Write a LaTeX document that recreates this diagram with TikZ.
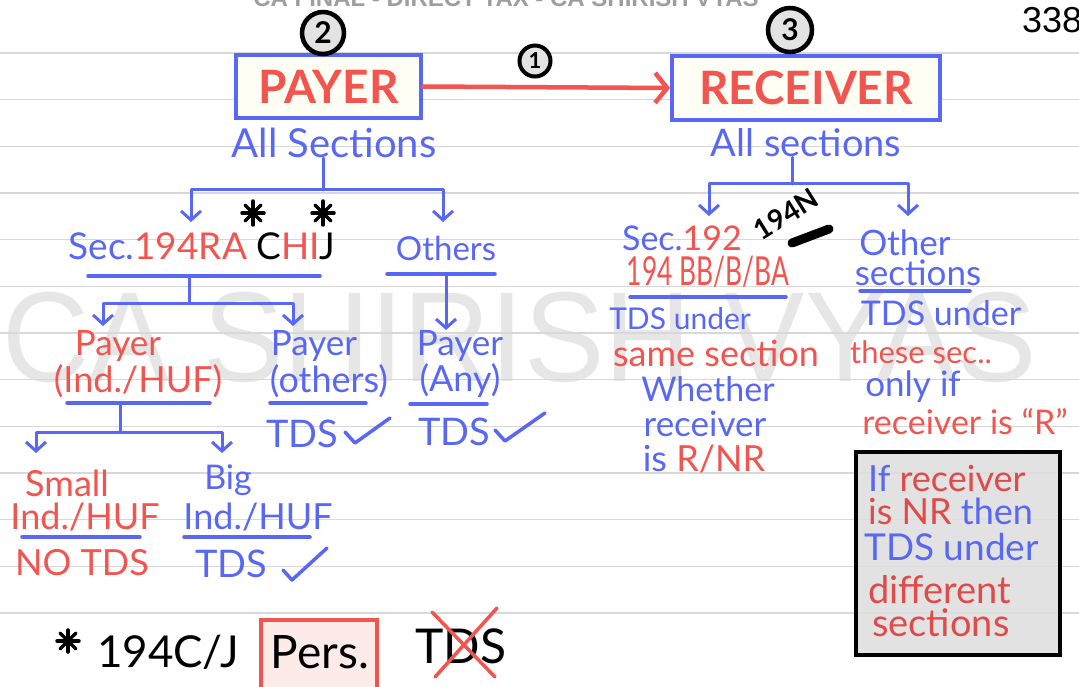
\documentclass[tikz,border=0pt]{standalone}
\usepackage{fontspec}
\setmainfont{Lato}
\newfontfamily\arialfont{Liberation Sans}
\newfontfamily\boldhand{Lato Bold}
\usetikzlibrary{arrows.meta}
\definecolor{bl}{HTML}{5868F5}
\definecolor{rd}{HTML}{F25550}
\definecolor{rdd}{HTML}{E04A48}
\definecolor{rulec}{HTML}{D8D8D8}
\definecolor{wm}{HTML}{E6E6E6}
\newcommand\fs[1]{\fontsize{#1}{#1}\selectfont}
\begin{document}
\begin{tikzpicture}[x=1pt,y=-1pt,
  hw/.style={inner sep=0pt},
  hb/.style={hw, text=bl},
  hr/.style={hw, text=rd},
  conn/.style={draw=bl, line width=3pt, line cap=round, line join=round},
  arr/.style={conn, -{Straight Barb[length=9pt,width=20pt,line width=3pt]}},
  uline/.style={draw=bl, line width=3.5pt, line cap=round},
  numc/.style={circle, draw=black, line width=4.5pt, fill=black!11, inner sep=0pt, font=\boldhand\fs{30}},
  mainbox/.style={draw=bl, line width=4pt, fill=yellow!4, text=rd, font=\boldhand\fs{46}, inner sep=0pt},
  tick/.style={draw=bl, line width=3.5pt, line cap=round, line join=round},
  astk/.style={draw=black, line width=3.5pt, line cap=round},
]
\useasboundingbox (0,0) rectangle (1079,687);
\fill[white] (0,0) rectangle (1079,687);
% watermark
\node[text=wm, font=\arialfont\fs{128}, xscale=0.94, inner sep=0pt] (wmark) at (520,337) {CA SHIRISH VYAS};
% ruled lines
\foreach \k in {0,...,12} {
  \draw[rulec, line width=1.4pt] (0,{53+46.67*\k}) -- (1079,{53+46.67*\k});
}
% header and page number
\node[text=black!38, font=\arialfont\bfseries\fs{24}, anchor=base, inner sep=0pt] (hdr) at (506,7) {CA FINAL - DIRECT TAX - CA SHIRISH VYAS};
\node[text=black, font=\arialfont\fs{36}, anchor=base west, inner sep=0pt] (page) at (1022,33) {338};

% top boxes
\node[mainbox, minimum width=185pt, minimum height=63pt] (payer) at (328.5,86.5) {PAYER};
\node[mainbox, minimum width=268pt, minimum height=64pt] (receiver) at (806,88) {RECEIVER};
\draw[draw=rd, line width=4.5pt, line cap=round, -{Straight Barb[length=12pt,width=30pt,line width=4.5pt]}] (payer.east) -- (receiver.west);
\node[numc, minimum size=42pt] (n2) at (323,33) {2};
\node[numc, minimum size=44pt] (n3) at (790,30) {3};
\node[numc, minimum size=31pt, line width=4pt, font=\boldhand\fs{22}] (n1) at (535,61) {1};

\node[hb, font=\fs{40}] (allL) at (334,143) {All Sections};
\node[hb, font=\fs{38}] (allR) at (806,143) {All sections};

% ---------- left tree ----------
\coordinate (jL) at (323,190);
\coordinate (tSec) at (191,222);
\coordinate (tOth) at (443,222);
\draw[conn] (jL |- allL.south) -- (jL);
\draw[arr] (jL) -| (tSec);
\draw[arr] (jL) -| (tOth);

\node[hw, font=\fs{37}] (secL) at (202,246) {{\color{bl}Sec.}{\color{rd}194RA }{\color{black}C}{\color{rd}HI}{\color{black}J}};
\foreach \cx/\nm in {253/a1,323/a2} {
  \coordinate (\nm) at (\cx,213);
  \draw[astk] ([shift={(-11,0)}]\nm) -- ([shift={(11,0)}]\nm);
  \draw[astk] ([shift={(0,-12)}]\nm) -- ([shift={(0,12)}]\nm);
  \draw[astk] ([shift={(-8,-8)}]\nm) -- ([shift={(8,8)}]\nm);
  \draw[astk] ([shift={(-8,8)}]\nm) -- ([shift={(8,-8)}]\nm);
}
\coordinate (uSecA) at (88,276); \coordinate (uSecB) at (320,276);
\draw[uline] (uSecA) -- (uSecB);
\node[hb, font=\fs{33}] (othL) at (446,248) {Others};
\coordinate (uOthA) at (387,274); \coordinate (uOthB) at (495,274);
\draw[uline] (uOthA) -- (uOthB);

\coordinate (mSec) at (189,276);
\coordinate (jS) at (189,303);
\coordinate (tInd) at (103,326);
\coordinate (tOthers) at (293,326);
\draw[conn] (mSec) -- (jS);
\draw[arr] (jS) -| (tInd);
\draw[arr] (jS) -| (tOthers);
\coordinate (mOth) at (446,274);
\coordinate (tAny) at (446,330);
\draw[arr] (mOth) -- (tAny);

\node[hr, font=\fs{35}] (payR1) at (118,346) {Payer};
\node[hr, font=\fs{36}] (payR2) at (138,381) {(Ind./HUF)};
\draw[uline] (67,403) -- (210,403);
\node[hb, font=\fs{35}] (payB1) at (314,346) {Payer};
\node[hb, font=\fs{36}] (payB2) at (329,381) {(others)};
\draw[uline] (270,403) -- (366,403);
\node[hb, font=\fs{35}] (payA1) at (460,346) {Payer};
\node[hb, font=\fs{36}] (payA2) at (460,381) {(Any)};
\draw[uline] (410,404) -- (487,404);

\node[hb, font=\fs{38}] (tds1) at (302,434) {TDS};
\draw[tick] (345,432) -- (355,443) -- (390,418);
\node[hb, font=\fs{38}] (tds2) at (454,432) {TDS};
\draw[tick] (495,430) -- (505,441) -- (545,413);

\coordinate (mInd) at (120,403);
\coordinate (jI) at (120,432);
\coordinate (tSmall) at (36,453);
\coordinate (tBig) at (222,453);
\draw[conn] (mInd) -- (jI);
\draw[arr] (jI) -| (tSmall);
\draw[arr] (jI) -| (tBig);

\node[hr, font=\fs{36}] (small1) at (67,483) {Small};
\node[hr, font=\fs{36}] (small2) at (85,517) {Ind./HUF};
\draw[uline] (22,537) -- (140,537);
\node[hr, font=\fs{36}] (notds) at (82,563) {NO TDS};
\node[hb, font=\fs{34}] (big1) at (228,480) {Big};
\node[hb, font=\fs{36}] (big2) at (258,517) {Ind./HUF};
\draw[uline] (184,537) -- (310,537);
\node[hb, font=\fs{38}] (tds3) at (231,564) {TDS};
\draw[tick] (283,570) -- (292,580) -- (327,548);

% bottom note
\coordinate (a3) at (68,641);
\draw[astk] ([shift={(-11,0)}]a3) -- ([shift={(11,0)}]a3);
\draw[astk] ([shift={(0,-11)}]a3) -- ([shift={(0,11)}]a3);
\draw[astk] ([shift={(-8,-8)}]a3) -- ([shift={(8,8)}]a3);
\draw[astk] ([shift={(-8,8)}]a3) -- ([shift={(8,-8)}]a3);
\node[hw, font=\fs{44}] (cj) at (168,652) {194C/J};
\draw[draw=rd, line width=4pt, fill=rd!12] (261,620) rectangle (377,692);
\node[hw, font=\fs{46}] (pers) at (320,652) {Pers.};
\node[hw, font=\fs{48}] (tdsx) at (461,646) {TDS};
\draw[draw=rd, line width=3.5pt, line cap=round] (432,612) -- (495,677);
\draw[draw=rd, line width=3.5pt, line cap=round] (497,608) -- (435,677);

% ---------- right tree ----------
\coordinate (jR) at (792,184);
\coordinate (t192) at (709,216);
\coordinate (tOS) at (908,216);
\draw[conn] (jR |- allR.south) -- (jR);
\draw[arr] (jR) -| (t192);
\draw[arr] (jR) -| (tOS);

\node[hw, font=\fs{34}] (sec192) at (682,238) {{\color{bl}Sec.}{\color{rd}192}};
\node[hw, font=\boldhand\fs{28}, rotate=32] (n194N) at (786,214) {194N};
\draw[black, line width=9pt, line cap=round] (792,243) -- (829,229);
\node[hr, font=\fs{40}, xscale=0.66] (bb) at (708,272) {194 BB/B/BA};
\draw[uline] (630,297) -- (786,297);
\node[hb, font=\fs{30}] (r1) at (680,319) {TDS under};
\node[hr, font=\fs{36}] (r2) at (716,353) {same section};
\node[hb, font=\fs{34}] (r3) at (708,389) {Whether};
\node[hb, font=\fs{35}] (r4) at (705,424) {receiver};
\node[hw, font=\fs{36}] (r5) at (704,459) {{\color{bl}is }{\color{rd}R/NR}};

\node[hb, font=\fs{35}] (o1) at (905,243) {Other};
\node[hb, font=\fs{35}] (o2) at (918,273) {sections};
\draw[uline] (860,291) -- (970,291);
\node[hb, font=\fs{34}] (o3) at (941,313) {TDS under};
\node[hr, font=\fs{31}] (o4) at (921,352) {these sec..};
\node[hb, font=\fs{35}] (o5) at (913,387) {only if};
\node[hr, font=\fs{34}] (o6) at (965,422) {receiver is ``R''};

% side note box
\draw[draw=black, line width=3.5pt, fill=black!13, fill opacity=0.85] (856,452) rectangle (1060,655);
\node[hw, font=\fs{36}, anchor=west] (b1) at (868,478) {{\color{bl}If }{\color{rdd}receiver}};
\node[hw, font=\fs{36}, anchor=west] (b2) at (868,511) {{\color{rdd}is NR }{\color{bl}then}};
\node[hw, font=\fs{37}, anchor=west, text=bl] (b3) at (864,547) {TDS under};
\node[hw, font=\fs{38}, anchor=west, text=rdd] (b4) at (868,590) {different};
\node[hw, font=\fs{38}, anchor=west, text=rdd] (b5) at (872,623) {sections};
\end{tikzpicture}
\end{document}
